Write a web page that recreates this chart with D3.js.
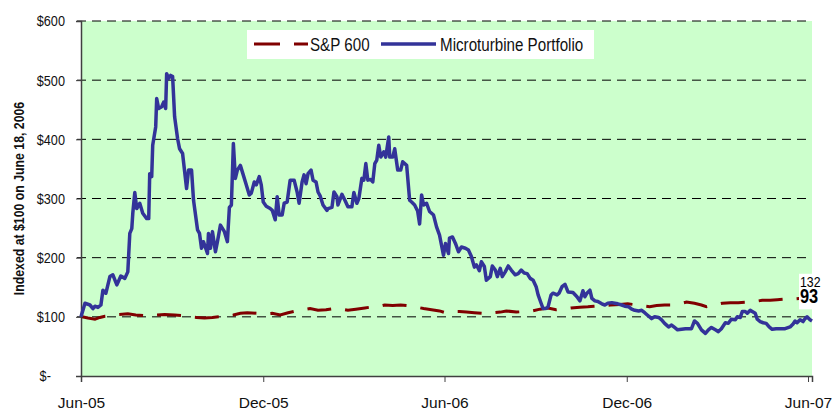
<!DOCTYPE html>
<html>
<head>
<meta charset="utf-8">
<script src="https://cdn.jsdelivr.net/npm/d3@7/dist/d3.min.js"></script>
<style>
	body { margin: 0; background: #fff; }
	svg { display: block; }
	text { font-family: 'Liberation Sans', Arial, sans-serif; }
</style>
</head>
<body>
<svg id="chart" width="834" height="412"></svg>
<script>
// Microturbine portfolio, indexed value
const portfolioSeries = [
	["2005-06-01",100],["2005-06-05",123],["2005-06-10",120],["2005-06-13",114],["2005-06-15",118],["2005-06-18",116],
	["2005-06-21",120],["2005-06-23",145],["2005-06-26",140],["2005-06-30",168],["2005-07-03",171],["2005-07-07",154],
	["2005-07-11",169],["2005-07-15",165],["2005-07-18",176],["2005-07-20",241],["2005-07-22",249],["2005-07-23",275],
	["2005-07-25",310],["2005-07-27",283],["2005-07-30",292],["2005-08-02",275],["2005-08-06",266],["2005-08-08",266],
	["2005-08-09",342],["2005-08-11",337],["2005-08-12",390],["2005-08-15",421],["2005-08-16",469],["2005-08-18",452],
	["2005-08-21",455],["2005-08-23",463],["2005-08-25",452],["2005-08-26",511],["2005-08-28",503],["2005-08-30",508],
	["2005-09-01",506],["2005-09-03",438],["2005-09-06",401],["2005-09-08",384],["2005-09-11",376],["2005-09-15",317],
	["2005-09-17",348],["2005-09-20",348],["2005-09-22",297],["2005-09-26",247],["2005-09-28",241],["2005-09-30",216],
	["2005-10-02",227],["2005-10-06",207],["2005-10-07",241],["2005-10-09",216],["2005-10-11",244],["2005-10-14",210],
	["2005-10-16",227],["2005-10-19",255],["2005-10-23",244],["2005-10-26",227],["2005-10-28",285],["2005-10-30",289],
	["2005-11-01",393],["2005-11-03",334],["2005-11-05",348],["2005-11-08",356],["2005-11-10",345],["2005-11-14",323],
	["2005-11-17",306],["2005-11-19",309],["2005-11-22",328],["2005-11-24",323],["2005-11-27",337],["2005-11-29",323],
	["2005-12-01",294],["2005-12-04",287],["2005-12-08",283],["2005-12-10",280],["2005-12-13",264],["2005-12-15",303],
	["2005-12-17",272],["2005-12-20",272],["2005-12-22",292],["2005-12-25",294],["2005-12-28",331],["2006-01-01",331],
	["2006-01-04",311],["2006-01-06",292],["2006-01-09",328],["2006-01-11",340],["2006-01-13",325],["2006-01-15",342],
	["2006-01-18",348],["2006-01-20",331],["2006-01-23",328],["2006-01-25",311],["2006-01-27",305],["2006-01-30",289],
	["2006-02-03",280],["2006-02-04",283],["2006-02-08",285],["2006-02-10",311],["2006-02-13",303],["2006-02-14",289],
	["2006-02-18",307],["2006-02-21",297],["2006-02-24",286],["2006-02-28",286],["2006-03-02",310],["2006-03-05",292],
	["2006-03-07",300],["2006-03-10",334],["2006-03-12",331],["2006-03-14",359],["2006-03-16",331],["2006-03-19",332],
	["2006-03-21",328],["2006-03-23",359],["2006-03-25",365],["2006-03-27",390],["2006-03-29",370],["2006-04-01",379],
	["2006-04-03",370],["2006-04-06",404],["2006-04-07",370],["2006-04-10",370],["2006-04-12",384],["2006-04-15",348],
	["2006-04-18",348],["2006-04-20",362],["2006-04-24",356],["2006-04-27",297],["2006-04-29",294],["2006-05-02",289],
	["2006-05-05",279],["2006-05-07",257],["2006-05-09",306],["2006-05-11",289],["2006-05-14",292],["2006-05-17",278],
	["2006-05-21",272],["2006-05-24",252],["2006-05-27",238],["2006-05-29",221],["2006-05-31",204],["2006-06-02",224],
	["2006-06-05",207],["2006-06-06",233],["2006-06-09",235],["2006-06-12",224],["2006-06-15",210],["2006-06-18",218],
	["2006-06-22",216],["2006-06-25",213],["2006-06-28",202],["2006-07-01",184],["2006-07-03",188],["2006-07-06",178],
	["2006-07-08",193],["2006-07-11",185],["2006-07-13",162],["2006-07-17",168],["2006-07-19",186],["2006-07-22",179],
	["2006-07-24",168],["2006-07-27",182],["2006-07-29",168],["2006-08-01",176],["2006-08-04",186],["2006-08-07",179],
	["2006-08-11",171],["2006-08-14",173],["2006-08-17",179],["2006-08-20",174],["2006-08-23",173],["2006-08-26",165],
	["2006-08-29",162],["2006-09-01",151],["2006-09-03",137],["2006-09-06",123],["2006-09-08",114],["2006-09-11",114],
	["2006-09-13",117],["2006-09-16",137],["2006-09-18",140],["2006-09-22",137],["2006-09-24",140],["2006-09-27",151],
	["2006-09-30",155],["2006-10-03",142],["2006-10-08",141],["2006-10-12",134],["2006-10-15",127],["2006-10-18",144],
	["2006-10-20",134],["2006-10-22",140],["2006-10-25",145],["2006-10-27",131],["2006-10-30",127],["2006-11-02",126],
	["2006-11-06",122],["2006-11-09",120],["2006-11-12",123],["2006-11-16",124],["2006-11-19",123],["2006-11-22",122],
	["2006-11-26",120],["2006-11-29",118],["2006-12-03",117],["2006-12-06",113],["2006-12-09",111],["2006-12-13",110],
	["2006-12-16",111],["2006-12-19",107],["2006-12-23",101],["2006-12-26",97],["2006-12-29",100],["2007-01-02",99],
	["2007-01-05",95],["2007-01-08",89],["2007-01-12",83],["2007-01-15",86],["2007-01-18",82],["2007-01-21",78],
	["2007-01-25",79],["2007-01-29",80],["2007-02-04",80],["2007-02-07",93],["2007-02-10",89],["2007-02-14",78],
	["2007-02-18",72],["2007-02-21",78],["2007-02-24",82],["2007-02-28",78],["2007-03-03",75],["2007-03-06",80],
	["2007-03-10",90],["2007-03-13",89],["2007-03-16",96],["2007-03-20",95],["2007-03-22",100],["2007-03-25",99],
	["2007-03-27",109],["2007-03-30",109],["2007-04-01",106],["2007-04-04",111],["2007-04-06",109],["2007-04-09",106],
	["2007-04-11",96],["2007-04-14",92],["2007-04-17",90],["2007-04-20",89],["2007-04-23",83],["2007-04-26",79],
	["2007-04-30",80],["2007-05-04",80],["2007-05-09",80],["2007-05-14",83],["2007-05-17",88],["2007-05-19",93],
	["2007-05-21",90],["2007-05-24",95],["2007-05-27",92],["2007-05-29",97],["2007-05-31",100],["2007-06-03",95],
	["2007-06-05",93]
];

// S&P 600, indexed value
const sp600Series = [
	["2005-06-02",100],["2005-06-08",98],["2005-06-15",96],["2005-06-20",99],["2005-06-25",101],["2005-07-02",102],
	["2005-07-09",104],["2005-07-18",105],["2005-07-26",103],["2005-08-03",102],["2005-08-09",103],["2005-08-16",103],
	["2005-08-24",104],["2005-09-03",103],["2005-09-11",102],["2005-09-18",100],["2005-09-25",99],["2005-10-03",98],
	["2005-10-11",99],["2005-10-17",100],["2005-10-24",101],["2005-11-01",103],["2005-11-08",106],["2005-11-15",107],
	["2005-11-25",106],["2005-12-03",105],["2005-12-10",106],["2005-12-18",103],["2005-12-26",107],["2006-01-03",110],
	["2006-01-10",112],["2006-01-17",114],["2006-01-25",111],["2006-02-02",112],["2006-02-10",114],["2006-02-17",113],
	["2006-02-24",111],["2006-03-04",113],["2006-03-13",115],["2006-03-21",117],["2006-03-28",118],["2006-04-02",120],
	["2006-04-10",119],["2006-04-18",120],["2006-04-24",119],["2006-04-29",117],["2006-05-05",116],["2006-05-11",114],
	["2006-05-19",112],["2006-05-27",110],["2006-06-02",107],["2006-06-08",109],["2006-06-16",109],["2006-06-23",108],
	["2006-07-01",107],["2006-07-08",106],["2006-07-15",105],["2006-07-21",107],["2006-07-27",108],["2006-08-02",110],
	["2006-08-12",108],["2006-08-20",109],["2006-08-28",110],["2006-09-05",113],["2006-09-13",115],["2006-09-21",112],
	["2006-09-28",113],["2006-10-06",115],["2006-10-15",116],["2006-10-23",117],["2006-10-29",118],["2006-11-07",119],
	["2006-11-15",120],["2006-11-24",121],["2006-12-02",122],["2006-12-07",121],["2006-12-15",119],["2006-12-24",117],
	["2006-12-31",119],["2007-01-08",120],["2007-01-15",120],["2007-01-23",122],["2007-01-30",125],["2007-02-07",123],
	["2007-02-14",120],["2007-02-19",117],["2007-02-27",120],["2007-03-07",123],["2007-03-15",124],["2007-03-23",124],
	["2007-04-01",125],["2007-04-09",126],["2007-04-16",128],["2007-04-24",128],["2007-05-01",129],["2007-05-08",130],
	["2007-05-16",130],["2007-05-23",131],["2007-05-29",132],["2007-06-03",132]
];

const xDomain = ["2005-06-01", "2007-06-05"];
const xTickDates = ["2005-06-01", "2005-12-01", "2006-06-01", "2006-12-01", "2007-06-01"];
const yTicks = [0, 100, 200, 300, 400, 500, 600];
const seriesNames = ["S&P 600", "Microturbine Portfolio"];
const yTitle = "Indexed at $100 on June 18, 2006";

const parseDate = d3.timeParse("%Y-%m-%d");
const portfolio = portfolioSeries.map(([d, v]) => ({ date: parseDate(d), value: v }));
const sp600 = sp600Series.map(([d, v]) => ({ date: parseDate(d), value: v }));

const plot = { left: 81, right: 812, top: 21, bottom: 376 };
const narrow = 0.82; // the original text is a condensed face
const svg = d3.select("#chart");

const x = d3.scaleTime()
	.domain(xDomain.map(parseDate))
	.range([plot.left, plot.right]);
const y = d3.scaleLinear()
	.domain([0, 600])
	.range([plot.bottom, plot.top]);

// squeeze a text horizontally around its own anchor point
function squeeze(sel, tx, ty) {
	sel.attr("x", 0).attr("y", 0)
		.attr("transform", `translate(${tx},${ty}) scale(${narrow},1)`);
}

// plot background
svg.append("rect")
	.attr("x", plot.left)
	.attr("y", plot.top)
	.attr("width", plot.right - plot.left)
	.attr("height", plot.bottom - plot.top)
	.attr("fill", "#ccffcc");

// dashed gridlines
svg.append("g")
	.selectAll("line")
	.data(yTicks.filter(d => d > 0))
	.join("line")
	.attr("x1", plot.left - 4)
	.attr("x2", plot.right)
	.attr("y1", d => y(d))
	.attr("y2", d => y(d))
	.attr("stroke", "#000")
	.attr("stroke-width", 1)
	.attr("stroke-dasharray", "9,6");

// y axis
const yAxis = svg.append("g")
	.attr("transform", `translate(${plot.left},0)`)
	.call(d3.axisLeft(y)
		.tickValues(yTicks)
		.tickSize(5)
		.tickPadding(11)
		.tickFormat(d => d === 0 ? "$-\u2007\u2007" : "$" + d));
yAxis.select(".domain").attr("stroke", "#404040").attr("stroke-width", 1.5);
yAxis.selectAll(".tick line").attr("stroke", "#404040");
yAxis.selectAll(".tick text")
	.attr("font-size", "15.5px")
	.attr("fill", "#111")
	.each(function() {
		const t = d3.select(this);
		squeeze(t, +t.attr("x"), 0);
	});

// x axis
const xAxis = svg.append("g")
	.attr("transform", `translate(0,${plot.bottom})`)
	.call(d3.axisBottom(x)
		.tickValues(xTickDates.map(parseDate))
		.tickSize(6)
		.tickPadding(15)
		.tickFormat(d3.timeFormat("%b-%y")));
xAxis.select(".domain").attr("stroke", "#404040").attr("stroke-width", 1.5);
xAxis.selectAll(".tick line").attr("stroke", "#404040");
xAxis.selectAll(".tick text")
	.attr("font-size", "15.5px")
	.attr("fill", "#111");

// y axis title
svg.append("text")
	.attr("transform", `translate(24,${(plot.top + plot.bottom) / 2}) rotate(-90) scale(${narrow},1)`)
	.attr("text-anchor", "middle")
	.attr("font-size", "15px")
	.attr("font-weight", "bold")
	.attr("fill", "#111")
	.text(yTitle);

const line = d3.line()
	.x(d => x(d.date))
	.y(d => y(d.value));

svg.append("path")
	.datum(sp600)
	.attr("fill", "none")
	.attr("stroke", "#800000")
	.attr("stroke-width", 3)
	.attr("stroke-dasharray", "24,14")
	.attr("d", line);

svg.append("path")
	.datum(portfolio)
	.attr("fill", "none")
	.attr("stroke", "#333399")
	.attr("stroke-width", 3.5)
	.attr("stroke-linejoin", "round")
	.attr("d", line);

// end value labels, on a white box drawn over the line ends
const lastSp = sp600[sp600.length - 1];
const lastPf = portfolio[portfolio.length - 1];
const labelBox = svg.append("rect").attr("fill", "#fff");
const labels = svg.append("g").attr("fill", "#000");
labels.append("text")
	.attr("font-size", "15px")
	.text(lastSp.value)
	.call(squeeze, 800, y(lastSp.value) - 11);
labels.append("text")
	.attr("font-size", "20px")
	.attr("font-weight", "bold")
	.text(lastPf.value)
	.call(squeeze, 800, y(lastPf.value) - 18);
const lb = labels.node().getBBox();
labelBox
	.attr("x", lb.x - 1)
	.attr("y", lb.y)
	.attr("width", lb.width + 30)
	.attr("height", lb.height + 2);

// legend
const legend = svg.append("g").attr("transform", "translate(247,30)");
legend.append("rect")
	.attr("width", 347)
	.attr("height", 29)
	.attr("fill", "#fff");
legend.append("line")
	.attr("x1", 7).attr("x2", 61)
	.attr("y1", 14).attr("y2", 14)
	.attr("stroke", "#800000")
	.attr("stroke-width", 3)
	.attr("stroke-dasharray", "26,14");
legend.append("text")
	.attr("font-size", "18.5px")
	.attr("fill", "#111")
	.text(seriesNames[0])
	.call(squeeze, 63, 21);
legend.append("line")
	.attr("x1", 134).attr("x2", 189)
	.attr("y1", 14).attr("y2", 14)
	.attr("stroke", "#333399")
	.attr("stroke-width", 3.5);
legend.append("text")
	.attr("font-size", "18.5px")
	.attr("fill", "#111")
	.text(seriesNames[1])
	.call(squeeze, 193, 21);
</script>
</body>
</html>
